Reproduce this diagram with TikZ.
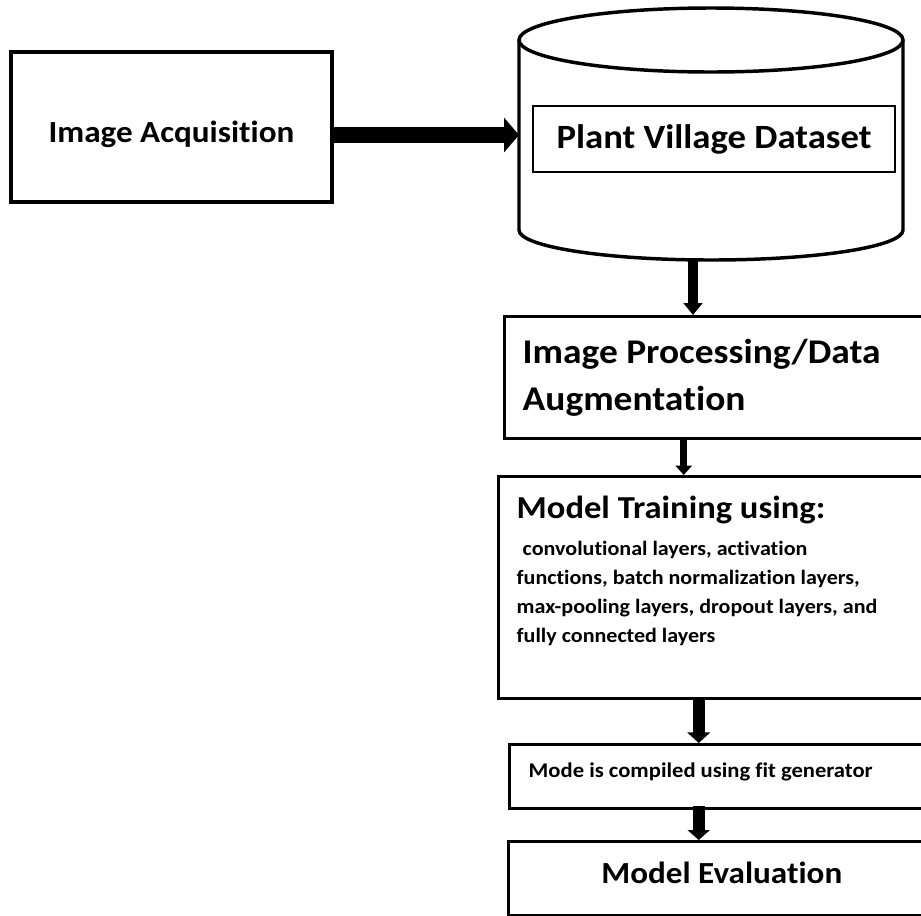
\documentclass[tikz,border=0pt]{standalone}
\usepackage{fontspec}
\setmainfont{Carlito}[FakeStretch=1.08, Ligatures=NoCommon]
\usepackage{tikz}
\usetikzlibrary{arrows.meta,positioning,calc}
\newlength\pxu
\setlength\pxu{0.75pt}

\begin{document}
\begin{tikzpicture}[x=0.75pt,y=-0.75pt,
    box/.style={draw, line width=2.6pt, rectangle, font=\bfseries, inner xsep=18\pxu, inner ysep=0pt},
    flow/.style={line width=#1}]
    % page size of the original drawing
    \useasboundingbox (0,0) rectangle (921,915);
    \clip (0,0) rectangle (921,915);

    % acquisition box on the left
    \node[box, minimum width=321\pxu, minimum height=150\pxu, text height=30\pxu, text depth=0pt, font=\bfseries\fontsize{23}{28}\selectfont] (acq) at (171.5,127) {Image Acquisition};

    % database drum
    \def\dbl{519}
    \def\dbr{903}
    \draw[line width=2.6pt] (711,40) ellipse [x radius=192, y radius=32];
    \draw[line width=2.6pt] (\dbl,40) -- (\dbl,230) .. controls (\dbl,246.6) and (604.9,260) .. (711,260)
        .. controls (817.1,260) and (\dbr,246.6) .. (\dbr,230) -- (\dbr,40);
    \coordinate (dbleft) at (\dbl,135);
    \coordinate (dbbottom) at (693,260);
    \node[draw, line width=0.8pt, minimum width=362\pxu, minimum height=66\pxu, text height=18\pxu, text depth=0pt, font=\bfseries\fontsize{25.5}{30}\selectfont] (dataset) at (714,139) {Plant Village Dataset};

    % processing chain on the right
    \node[box, anchor=north west, text width=404\pxu, minimum height=122\pxu, align=flush left, font=\bfseries\fontsize{26}{35}\selectfont] (proc) at (503,315) {Image Processing/Data\\Augmentation};
    \node[box, anchor=north west, text width=404\pxu, minimum height=222\pxu, align=flush left, font=\bfseries\fontsize{15.3}{21.75}\selectfont] (train) at (497,475)
        {{\fontsize{24}{28}\selectfont Model Training using:}\\[6pt]
         \hspace*{6\pxu}convolutional layers, activation\\
         functions, batch normalization layers,\\
         max-pooling layers, dropout layers, and\\
         fully connected layers\rule[-36\pxu]{0pt}{0pt}};
    \node[box, anchor=north west, text width=402\pxu, inner xsep=19\pxu, minimum height=64\pxu, text height=12\pxu, text depth=10\pxu, align=flush left, font=\bfseries\fontsize{15.7}{20}\selectfont] (fit) at (508,743) {Mode is compiled using fit generator};
    \node[box, anchor=north west, minimum width=426\pxu, minimum height=74\pxu, text height=10\pxu, text depth=0pt, font=\bfseries\fontsize{23}{28}\selectfont] (eval) at (507,840) {Model Evaluation};

    % arrows
    \draw[flow=12pt, -{Triangle[length=11.25pt, width=25.5pt]}] (acq.east |- dbleft) -- (dbleft);
    \draw[flow=7.5pt, -{Triangle[length=9pt, width=14pt]}] (dbbottom) -- (dbbottom |- proc.north);
    \draw[flow=5.3pt, -{Triangle[length=7pt, width=12pt]}] ([xshift=-41\pxu]proc.south) -- ([xshift=-35\pxu]train.north);
    \draw[flow=9pt, -{Triangle[length=8pt, width=17pt]}] ([xshift=-20\pxu]train.south) -- ([xshift=-31\pxu]fit.north);
    \draw[flow=9pt, -{Triangle[length=7.5pt, width=16.5pt]}] ([xshift=-31\pxu,yshift=4\pxu]fit.south) -- ([xshift=-23\pxu]eval.north);
\end{tikzpicture}
\end{document}
